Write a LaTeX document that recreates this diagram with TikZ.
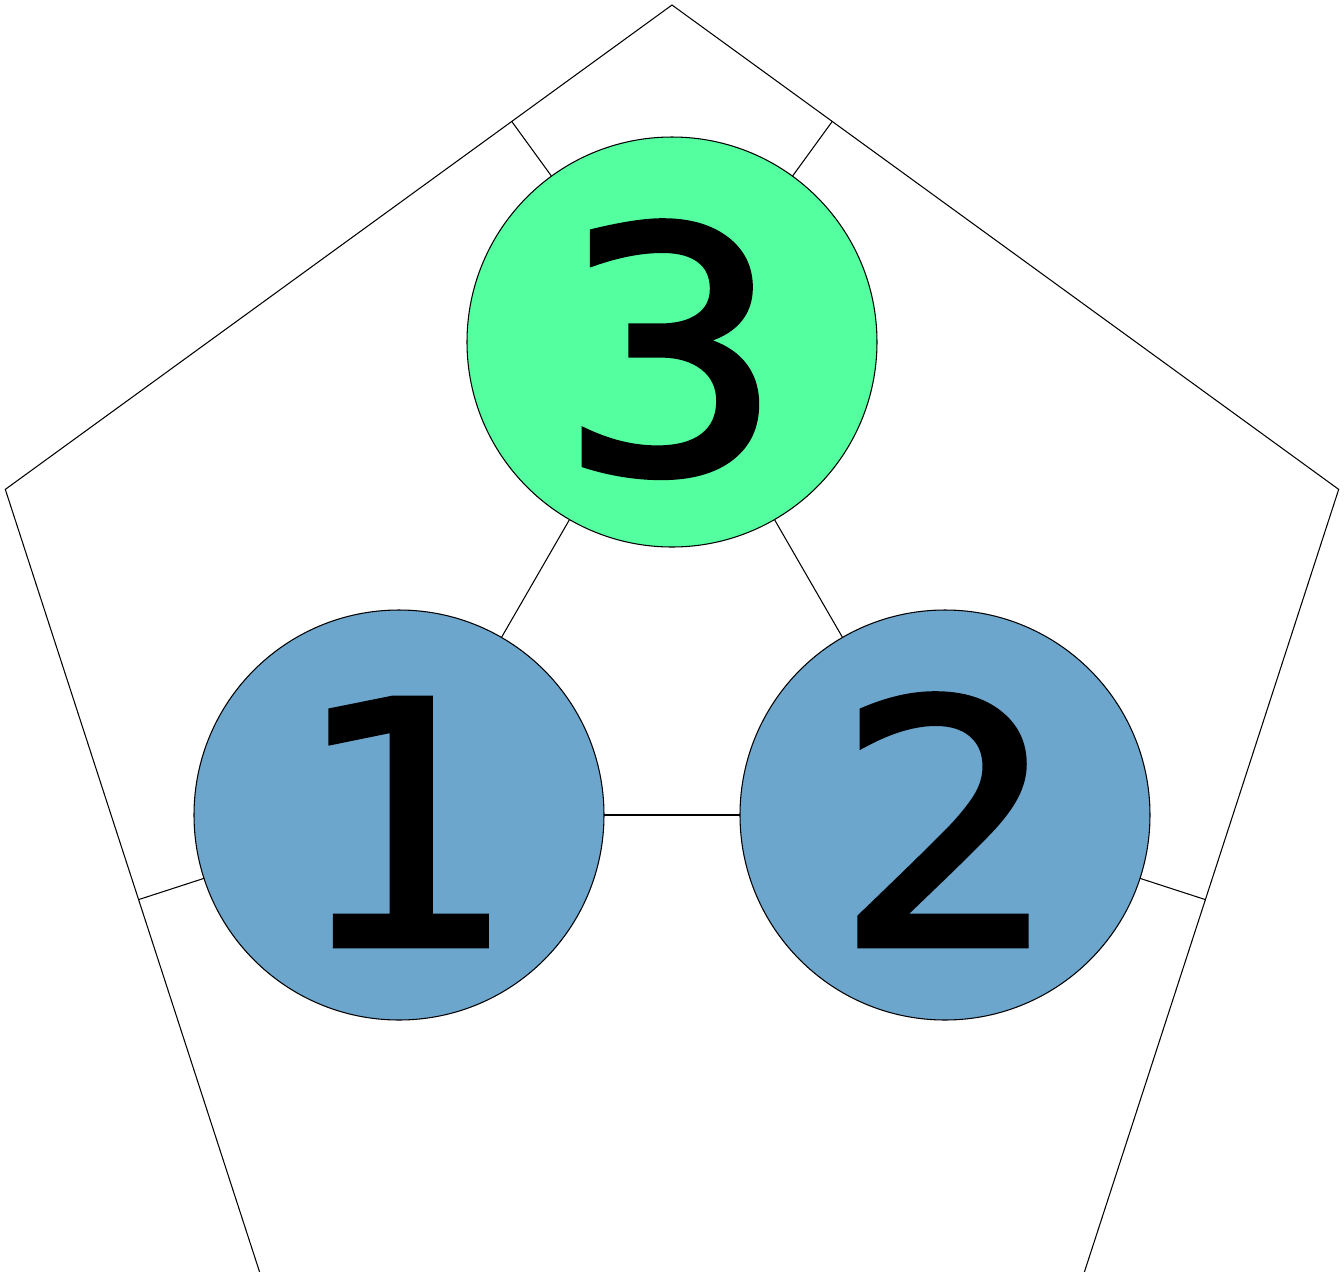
\documentclass[tikz,border=0pt]{standalone}
\usepackage{fontspec}
\newfontfamily\digitfont[FakeBold=2,FakeStretch=1.1]{DejaVu Sans Mono}
\usetikzlibrary{calc}
\definecolor{vertexblue}{RGB}{108,166,205}
\definecolor{vertexgreen}{RGB}{84,255,159}
\begin{document}
\begin{tikzpicture}
  [blue vertex/.style={circle,draw=black,fill=vertexblue,line width=0.3pt,
                       minimum size=4.1cm,inner sep=0,outer sep=0,
                       text height=2.60cm,text depth=0cm,
                       font=\digitfont\fontsize{96}{96}\selectfont},
   green vertex/.style={blue vertex,fill=vertexgreen},
   edge/.style={line width=0.3pt}]
  \useasboundingbox (0,0) rectangle (13.44,-12.72);
  % outer face
  \coordinate (center) at (6.72,-7.06);
  \coordinate (top) at ($(center)+(90:7.01)$);
  \coordinate (right) at ($(center)+(18:7.01)$);
  \coordinate (lowright) at ($(center)+(-54:7.01)$);
  \coordinate (lowleft) at ($(center)+(-126:7.01)$);
  \coordinate (left) at ($(center)+(162:7.01)$);
  \draw[edge] (top) -- (right) -- (lowright) -- (lowleft) -- (left) -- cycle;
  % vertices
  \node[green vertex] (v3) at (6.72,-3.42) {3};
  \node[blue vertex] (v1) at (3.99,-8.15) {1};
  \node[blue vertex] (v2) at (9.45,-8.15) {2};
  % legs to the outer face
  \coordinate (foot3a) at ($(left)!(v3)!(top)$);
  \coordinate (foot3b) at ($(top)!(v3)!(right)$);
  \coordinate (foot1) at ($(left)!(v1)!(lowleft)$);
  \coordinate (foot2) at ($(right)!(v2)!(lowright)$);
  \draw[edge] (v3) to (foot3a);
  \draw[edge] (v3) to (foot3b);
  \draw[edge] (v1) to (foot1);
  \draw[edge] (v2) to (foot2);
  % edges between vertices
  \draw[edge] (v3) to (v1);
  \draw[edge] (v3) to (v2);
  \draw[edge] (v1) to (v2);
\end{tikzpicture}
\end{document}
